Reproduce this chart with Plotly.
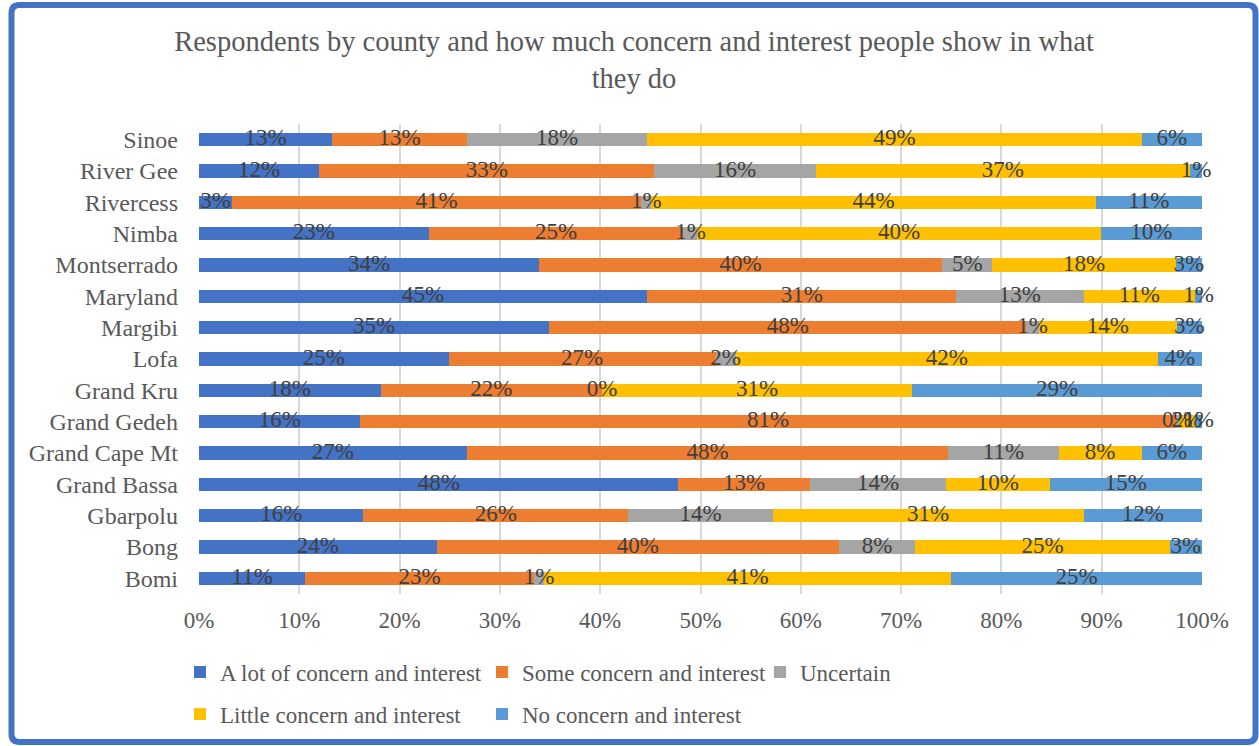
import math
import plotly.graph_objects as go

# Counties, listed bottom-to-top as they appear on the category axis
counties = ["Bomi", "Bong", "Gbarpolu", "Grand Bassa", "Grand Cape Mt",
            "Grand Gedeh", "Grand Kru", "Lofa", "Margibi", "Maryland",
            "Montserrado", "Nimba", "Rivercess", "River Gee", "Sinoe"]

# Share of respondents (%) per answer category
a_lot = [10.6, 23.7, 16.4, 47.8, 26.7, 16.1, 18.1, 24.9, 34.9, 44.7, 33.9, 22.9, 3.3, 12.0, 13.3]
some = [22.8, 40.1, 26.4, 13.1, 48.0, 81.3, 22.1, 26.6, 47.6, 30.8, 40.2, 25.4, 40.8, 33.4, 13.4]
uncertain = [1.0, 7.6, 14.4, 13.6, 11.0, 0.3, 0.0, 2.0, 1.2, 12.7, 5.0, 1.4, 1.0, 16.1, 18.0]
little = [40.6, 25.4, 31.0, 10.3, 8.3, 1.6, 30.9, 42.1, 13.8, 11.1, 18.3, 40.2, 44.3, 37.3, 49.3]
no_concern = [25.0, 3.2, 11.8, 15.2, 6.0, 0.7, 28.9, 4.4, 2.5, 0.7, 2.6, 10.1, 10.6, 1.2, 6.0]

series_names = ["A lot of concern and interest", "Some concern and interest",
                "Uncertain", "Little concern and interest", "No concern and interest"]
series_values = [a_lot, some, uncertain, little, no_concern]
series_colors = ["#4472C4", "#ED7D31", "#A5A5A5", "#FFC000", "#5B9BD5"]

x_ticks = list(range(0, 101, 10))
x_tick_labels = [f"{t}%" for t in x_ticks]

FONT = "Liberation Serif"
TEXT_GREY = "#595959"
LABEL_GREY = "#404040"

# Canvas and plot-area geometry in pixels
W, H = 1259, 746
ML, MR, MT, MB = 199, 57, 124, 152
PW, PH = W - ML - MR, H - MT - MB

# Legend entry anchors (left x, row centre y) in pixels, one legend box each
legend_spots = [(180, 672), (482, 672), (760, 672), (180, 714), (482, 714)]


def px_to_paper_x(px):
    return (px - ML) / PW


def px_to_paper_y(py):
    return (H - MB - py) / PH


def pct_label(v):
    return f"{int(math.floor(v + 0.5))}%"


fig = go.Figure()

legend_layouts = {}
for k, (name, vals, color, spot) in enumerate(
        zip(series_names, series_values, series_colors, legend_spots)):
    key = "legend" if k == 0 else f"legend{k + 1}"
    fig.add_trace(go.Bar(
        y=counties, x=vals, name=name, orientation="h",
        marker=dict(color=color, line=dict(width=0)),
        legend=key, hoverinfo="x+y+name",
    ))
    legend_layouts[key] = dict(
        orientation="h", xref="container", yref="container",
        x=spot[0] / W, xanchor="left",
        y=1 - spot[1] / H, yanchor="middle",
        font=dict(family=FONT, size=23, color=TEXT_GREY),
        itemwidth=30, bgcolor="rgba(0,0,0,0)", borderwidth=0,
    )

# Centred value labels for every segment (zero-width ones included)
lab_x, lab_y, lab_t = [], [], []
for i, county in enumerate(counties):
    start = 0.0
    for vals in series_values:
        v = vals[i]
        lab_x.append(start + v / 2)
        lab_y.append(county)
        lab_t.append(pct_label(v))
        start += v

fig.add_trace(go.Scatter(
    x=lab_x, y=lab_y, text=lab_t, mode="text",
    textfont=dict(family=FONT, size=23, color=LABEL_GREY),
    textposition="middle center", showlegend=False, hoverinfo="skip",
    cliponaxis=False,
))

# Rounded outer frame drawn as a path in paper coordinates
fx0, fx1 = px_to_paper_x(11.5), px_to_paper_x(1255.5)
fy0, fy1 = px_to_paper_y(742), px_to_paper_y(5)
rx, ry = 8 / PW, 8 / PH
frame_path = (
    f"M {fx0 + rx},{fy1} L {fx1 - rx},{fy1} Q {fx1},{fy1} {fx1},{fy1 - ry} "
    f"L {fx1},{fy0 + ry} Q {fx1},{fy0} {fx1 - rx},{fy0} "
    f"L {fx0 + rx},{fy0} Q {fx0},{fy0} {fx0},{fy0 + ry} "
    f"L {fx0},{fy1 - ry} Q {fx0},{fy1} {fx0 + rx},{fy1} Z"
)

fig.update_layout(
    width=W, height=H,
    margin=dict(l=ML, r=MR, t=MT, b=MB, autoexpand=False),
    paper_bgcolor="white", plot_bgcolor="white",
    barmode="stack", bargap=0.58,
    font=dict(family=FONT, size=22, color=TEXT_GREY),
    title=dict(
        text="Respondents by county and how much concern and interest people show in what<br>they do",
        x=634 / W, xanchor="center", xref="container",
        y=1 - 51 / H, yanchor="top", yref="container",
        font=dict(family=FONT, size=28.5, color=TEXT_GREY),
    ),
    xaxis=dict(
        range=[0, 100], tickvals=x_ticks, ticktext=x_tick_labels,
        showgrid=True, gridcolor="#D9D9D9", gridwidth=2,
        zeroline=False, showline=False, ticks="",
        tickfont=dict(family=FONT, size=23, color=TEXT_GREY),
        ticklabelstandoff=10, fixedrange=True,
    ),
    yaxis=dict(
        categoryorder="array", categoryarray=counties,
        range=[-0.5, len(counties) - 0.5],
        showgrid=False, zeroline=False, showline=False, ticks="",
        tickfont=dict(family=FONT, size=24, color=TEXT_GREY),
        ticklabelstandoff=20, fixedrange=True,
    ),
    shapes=[dict(
        type="path", xref="paper", yref="paper", path=frame_path,
        line=dict(color="#4472C4", width=6), fillcolor="rgba(0,0,0,0)",
        layer="above",
    )],
    **legend_layouts,
)

fig.write_html("out.html")
